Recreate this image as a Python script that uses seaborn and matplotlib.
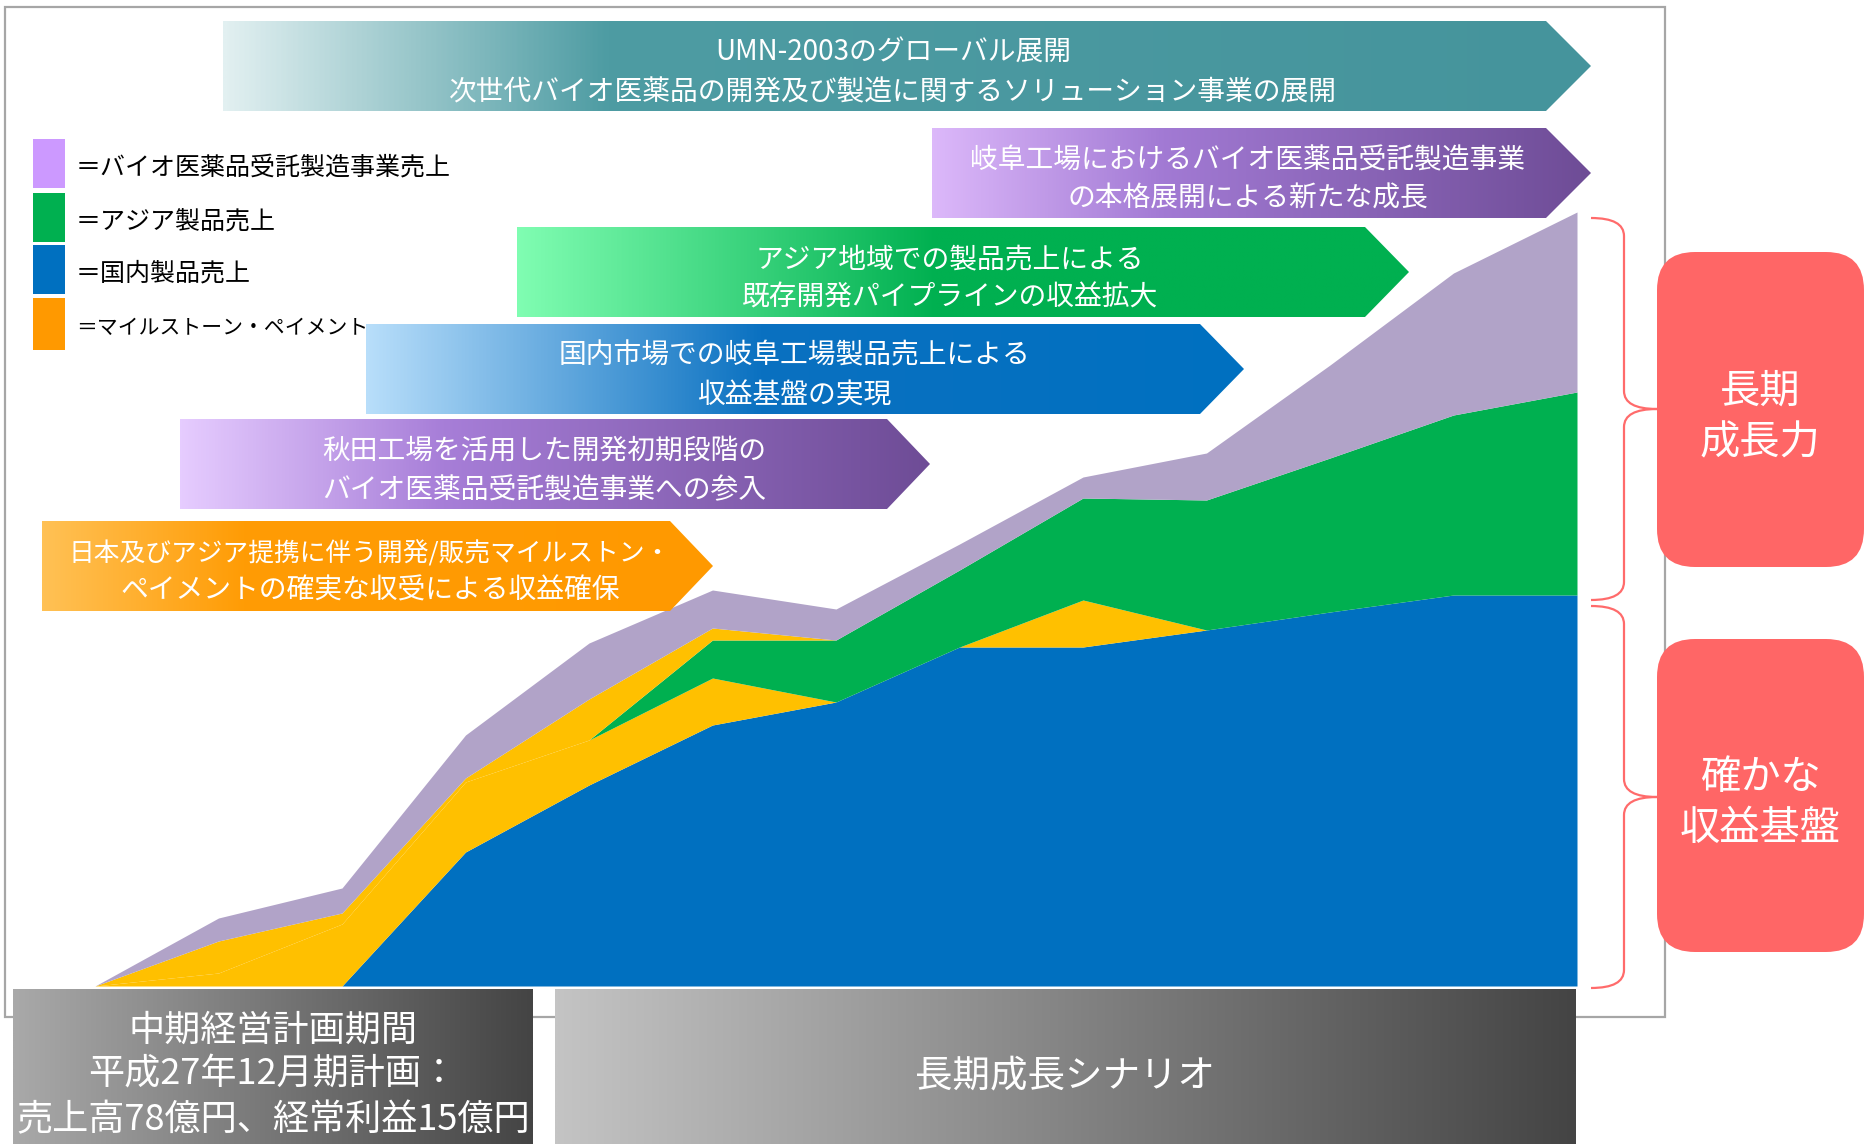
import numpy as np
import matplotlib
matplotlib.use("Agg")
import matplotlib.pyplot as plt
import seaborn as sns
from matplotlib.patches import Polygon, Rectangle, FancyBboxPatch, PathPatch
from matplotlib.path import Path
from matplotlib.colors import LinearSegmentedColormap

# ---------------- data (stacked area, arbitrary units) ----------------
periods = list(range(13))
domestic = [0, 0, 0, 134, 201, 261, 284, 339, 339, 356, 374, 391, 391]      # 国内製品売上
milestone_a = [0, 13, 62, 70, 45, 47, 0, 0, 47, 0, 0, 0, 0]                  # マイルストーン (lower)
asia = [0, 0, 0, 0, 0, 38, 62, 77, 102, 130, 154, 180, 203]                  # アジア製品売上
milestone_b = [0, 32, 11, 4, 41, 12, 0, 0, 0, 0, 0, 0, 0]                    # マイルストーン (upper)
bio_cmo = [0, 23, 25, 43, 56, 38, 31, 26, 21, 47, 93, 142, 180]             # バイオ医薬品受託製造事業売上

area_colors = ["#0070c0", "#ffc000", "#00b050", "#ffc000", "#b1a3c8"]
legend_labels = ["＝バイオ医薬品受託製造事業売上", "＝アジア製品売上", "＝国内製品売上", "＝マイルストーン・ペイメント"]
legend_colors = ["#cc99ff", "#00b050", "#0070c0", "#ff9900"]
legend_sizes = [18, 18, 18, 15]

banner_texts = [
    ["UMN-2003のグローバル展開", "次世代バイオ医薬品の開発及び製造に関するソリューション事業の展開"],
    ["岐阜工場におけるバイオ医薬品受託製造事業", "の本格展開による新たな成長"],
    ["アジア地域での製品売上による", "既存開発パイプラインの収益拡大"],
    ["国内市場での岐阜工場製品売上による", "収益基盤の実現"],
    ["秋田工場を活用した開発初期段階の", "バイオ医薬品受託製造事業への参入"],
    ["日本及びアジア提携に伴う開発/販売マイルストン・", "ペイメントの確実な収受による収益確保"],
]

sns.set_theme(style="white")
plt.rcParams["font.family"] = ["Noto Sans CJK JP", "DejaVu Sans"]

W, H = 1867, 1144
fig = plt.figure(figsize=(W / 100, H / 100), dpi=100)
fig.patch.set_facecolor("white")

# ---------------- stacked area chart ----------------
ax = fig.add_axes([95 / W, (H - 986) / H, (1577 - 95) / W, 786 / H], zorder=2)
ax.stackplot(periods, domestic, milestone_a, asia, milestone_b, bio_cmo,
             colors=area_colors, linewidth=0)
ax.set_xlim(0, 12)
ax.set_ylim(0, 786)
ax.axis("off")

# ---------------- overlay (pixel coordinates) ----------------
ov = fig.add_axes([0, 0, 1, 1], zorder=5)
ov.set_facecolor("none")
ov.axis("off")

# outer frame
ov.add_patch(Rectangle((5, 7), 1660, 1010, fill=False, ec="#a6a6a6", lw=1.6, zorder=1))


def banner(x0, x1, tip, y0, y1, stops, lines, fs=(20, 20), cx=None, dy=19.5, off=6.5):
    verts = [(x0, y0), (x1, y0), (tip, (y0 + y1) / 2), (x1, y1), (x0, y1)]
    poly = Polygon(verts, closed=True, fc="none", ec="none", zorder=3)
    ov.add_patch(poly)
    cmap = LinearSegmentedColormap.from_list("g", stops)
    grad = np.linspace(0, 1, 512).reshape(1, -1)
    im = ov.imshow(grad, cmap=cmap, extent=[x0, tip, y1, y0], aspect="auto",
                   interpolation="bilinear", zorder=3)
    im.set_clip_path(poly)
    cy = (y0 + y1) / 2 + off
    if cx is None:
        cx = (x0 + x1) / 2
    ov.text(cx, cy - dy, lines[0], color="white", fontsize=fs[0], ha="center", va="center", zorder=4)
    ov.text(cx, cy + dy, lines[1], color="white", fontsize=fs[1], ha="center", va="center", zorder=4)


banner(223, 1546, 1591, 21, 111,
       [(0, "#e2f0f1"), (0.28, "#4e9ca3"), (1, "#45949c")], banner_texts[0], cx=893)
banner(932, 1546, 1591, 128, 218,
       [(0, "#dcb8fa"), (0.35, "#a27ad4"), (1, "#6e4c96")], banner_texts[1], cx=1248)
banner(517, 1365, 1409, 227, 317,
       [(0, "#80fdb2"), (0.47, "#00b050"), (1, "#00b050")], banner_texts[2], cx=950)
banner(366, 1200, 1244, 324, 414,
       [(0, "#b8defa"), (0.45, "#0a71c1"), (1, "#0070c0")], banner_texts[3], cx=794, dy=20)
banner(180, 887, 930, 419, 509,
       [(0, "#e6ccff"), (0.35, "#a77ed8"), (1, "#6e4c96")], banner_texts[4], cx=544)
banner(42, 670, 713, 521, 611,
       [(0, "#ffc155"), (0.3, "#ff9c05"), (1, "#ff9900")], banner_texts[5], fs=(18.5, 20), cx=370, dy=18)

# legend (tall colour swatches with labels)
swatch_rows = [(139, 188), (193, 242), (245, 294), (298, 350)]
for (y0, y1), col, lab, fsz in zip(swatch_rows, legend_colors, legend_labels, legend_sizes):
    ov.add_patch(Rectangle((33, y0), 32, y1 - y0, fc=col, ec="none", zorder=3))
    ov.text(76, (y0 + y1) / 2 + 4, lab, color="black", fontsize=fsz, ha="left", va="center", zorder=4)


# braces
def brace(top, bottom, xl=1591, xv=1624, xt=1657, c=18):
    mid = (top + bottom) / 2
    verts = [(xl, top), (xv, top), (xv, top + c), (xv, mid - c), (xv, mid), (xt, mid),
             (xv, mid), (xv, mid + c), (xv, bottom - c), (xv, bottom), (xl, bottom)]
    codes = [Path.MOVETO, Path.CURVE3, Path.CURVE3, Path.LINETO, Path.CURVE3, Path.CURVE3,
             Path.CURVE3, Path.CURVE3, Path.LINETO, Path.CURVE3, Path.CURVE3]
    ov.add_patch(PathPatch(Path(verts, codes), fc="none", ec="#ff6b6b", lw=1.6, zorder=3))


brace(218, 600)
brace(606, 988)

# red rounded boxes
for (y0, y1, lines) in [(252, 567, ["長期", "成長力"]), (639, 952, ["確かな", "収益基盤"])]:
    ov.add_patch(FancyBboxPatch((1657, y0), 1864 - 1657, y1 - y0,
                                boxstyle="round,pad=0,rounding_size=38",
                                fc="#ff6666", ec="none", zorder=4))
    cy = (y0 + y1) / 2 + 9
    ov.text(1760, cy - 27, lines[0], color="white", fontsize=29, ha="center", va="center", zorder=5)
    ov.text(1760, cy + 24, lines[1], color="white", fontsize=29, ha="center", va="center", zorder=5)


# bottom gradient boxes
def gbox(x0, x1, y0, y1, stops):
    rect = Rectangle((x0, y0), x1 - x0, y1 - y0, fc="none", ec="none", zorder=6)
    ov.add_patch(rect)
    cmap = LinearSegmentedColormap.from_list("gb", stops)
    grad = np.linspace(0, 1, 512).reshape(1, -1)
    im = ov.imshow(grad, cmap=cmap, extent=[x0, x1, y1, y0], aspect="auto",
                   interpolation="bilinear", zorder=6)
    im.set_clip_path(rect)


gbox(13, 533, 989, 1144, [(0, "#a9a9a9"), (1, "#444444")])
gbox(555, 1576, 989, 1144, [(0, "#c4c4c4"), (1, "#444444")])
for txt, y in [("中期経営計画期間", 1031), ("平成27年12月期計画：", 1075), ("売上高78億円、経常利益15億円", 1120)]:
    ov.text(273, y, txt, color="white", fontsize=26, ha="center", va="center", zorder=7)
ov.text(1065, 1076, "長期成長シナリオ", color="white", fontsize=27, ha="center", va="center", zorder=7)

ov.set_xlim(0, W)
ov.set_ylim(H, 0)

fig.savefig("out.png", dpi=100)
